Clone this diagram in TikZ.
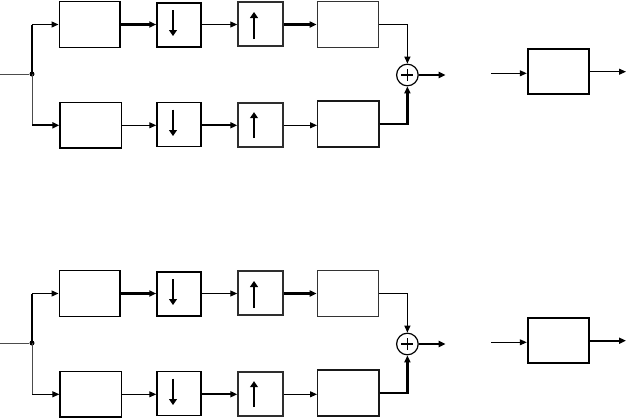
\documentclass[tikz,border=0pt]{standalone}
\usetikzlibrary{arrows.meta}
\begin{document}
\begin{tikzpicture}[x=1pt,y=-1pt,
  blk/.style={draw, rectangle, inner sep=0pt, minimum width=61pt, minimum height=46pt},
  sq/.style={draw, rectangle, inner sep=0pt, minimum width=44pt, minimum height=44pt, line width=1.5pt},
  tip/.style={-{Triangle[length=7pt,width=6pt]}},
  intip/.style={-{Triangle[length=6pt,width=8pt]}, line width=1.1pt},
  thinl/.style={line width=1pt},
  medl/.style={line width=1.3pt},
  thickl/.style={line width=2.2pt},
  dot/.style={circle, fill, inner sep=0pt, minimum size=5pt},
  sumnode/.style={circle, draw, line width=1.2pt, inner sep=0pt, minimum size=21.6pt}]
\useasboundingbox (0,0) rectangle (627,418);
\foreach \s/\oy/\wa/\wb in {a/0/2.2pt/1pt, b/269/1pt/2.2pt}{
  % nodes
  \node[blk, line width=1.7pt, minimum width=60.7pt] (\s h0) at (89.7,{\oy+24.5}) {};
  \node[blk, line width=1.2pt, minimum width=61.7pt, minimum height=45.3pt] (\s h1) at (90.8,{\oy+125.3}) {};
  \node[sq] (\s d0) at (179,{\oy+25}) {};
  \node[sq] (\s d1) at (179,{\oy+124.5}) {};
  \node[sq, draw=black!82, minimum width=45pt] (\s u0) at (260.5,{\oy+24}) {};
  \node[sq, draw=black!82, minimum width=45pt] (\s u1) at (260.5,{\oy+125.2}) {};
  \node[blk, line width=1.3pt, draw=black!80, minimum width=61.4pt] (\s g0) at (348,{\oy+24.7}) {};
  \node[blk, line width=1.3pt, draw=black!90, minimum width=61.3pt] (\s g1) at (348.3,{\oy+124}) {};
  \node[sumnode] (\s sum) at (407.4,{\oy+75}) {};
  \node[blk, line width=1.8pt, minimum width=61.3pt, minimum height=45.3pt] (\s f) at (558.3,{\oy+71.7}) {};
  \node[dot] (\s j) at (32,{\oy+74}) {};
  \coordinate (\s in) at (0,{\oy+74});
  \coordinate (\s out) at (445.7,{\oy+75});
  \coordinate (\s fin) at (491,{\oy+73.3});
  \coordinate (\s fout) at (626,{\oy+71.7});
  % input and split
  \draw[thinl, draw=black!70] (\s in) -- (\s j);
  \draw[line width=2pt] (\s j.center) -- (\s j.center |- \s h0.west);
  \draw[thinl, draw=black!70] (\s j.center) -- (\s j.center |- \s h1.west);
  \draw[medl, tip] (\s j.center |- \s h0.west) -- (\s h0.west);
  \draw[line width=\wa, tip] (\s j.center |- \s h1.west) -- (\s h1.west);
  % upper branch
  \draw[thickl, tip] (\s h0.east) -- (\s d0.west |- \s h0.east);
  \draw[thinl, tip] (\s d0.east |- \s h0.east) -- (\s u0.west |- \s h0.east);
  \draw[thickl, tip] (\s u0.east |- \s h0.east) -- (\s g0.west |- \s h0.east);
  % lower branch
  \draw[thinl, tip] (\s h1.east) -- (\s d1.west |- \s h1.east);
  \draw[thickl, tip] (\s d1.east |- \s h1.east) -- (\s u1.west |- \s h1.east);
  \draw[thinl, tip] (\s u1.east |- \s h1.east) -- (\s g1.west |- \s h1.east);
  % arrows inside
  \draw[intip] ([xshift=-6pt,yshift=15pt]\s d0.center) -- ([xshift=-6pt,yshift=-11pt]\s d0.center);
  \draw[intip] ([xshift=-6pt,yshift=15pt]\s d1.center) -- ([xshift=-6pt,yshift=-11.5pt]\s d1.center);
  \draw[intip] ([xshift=-6.5pt,yshift=-15pt]\s u0.center) -- ([xshift=-6.5pt,yshift=12pt]\s u0.center);
  \draw[intip] ([xshift=-6.5pt,yshift=-13pt]\s u1.center) -- ([xshift=-6.5pt,yshift=13pt]\s u1.center);
  % summation
  \draw[line width=1.1pt] ([xshift=-6pt]\s sum.center) -- ([xshift=6pt]\s sum.center);
  \draw[line width=1.1pt] ([yshift=-6pt]\s sum.center) -- ([yshift=6pt]\s sum.center);
  \draw[medl, tip] (\s g0.east) -| (\s sum.north);
  \draw[thickl, tip] (\s g1.east) -| (\s sum.south);
  \draw[thickl, tip] (\s sum.east) -- (\s out);
  % separate block
  \draw[thinl, tip] (\s fin) -- (\s f.west |- \s fin);
  \draw[line width=\wb, tip] (\s f.east |- \s fout) -- (\s fout);
}
\end{tikzpicture}
\end{document}
